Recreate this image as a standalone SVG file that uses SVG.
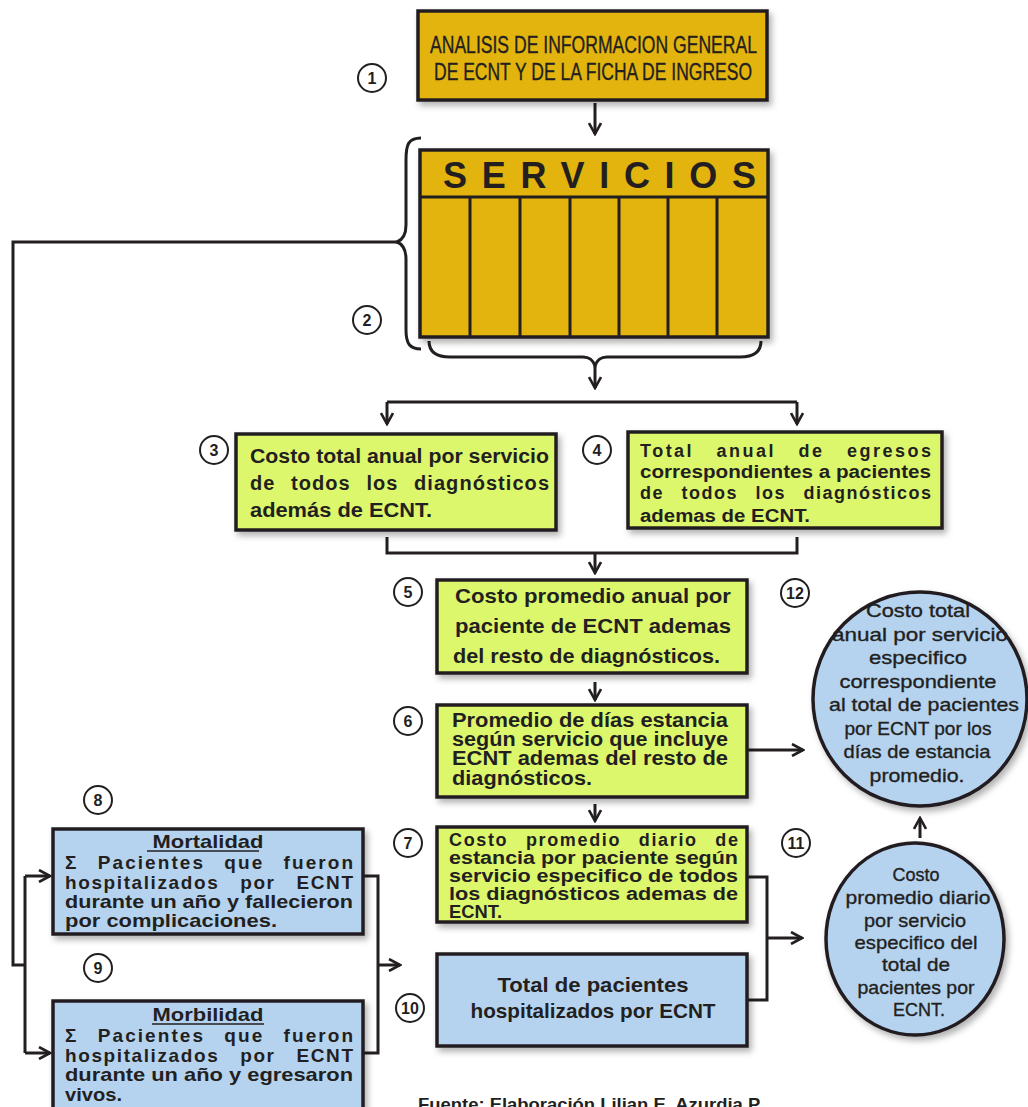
<svg xmlns="http://www.w3.org/2000/svg" width="1028" height="1107" viewBox="0 0 1028 1107">
<defs>
<filter id="sh" x="-10%" y="-10%" width="125%" height="130%">
<feDropShadow dx="3" dy="4" stdDeviation="3" flood-color="#000" flood-opacity="0.3"/>
</filter>
<marker id="arr" viewBox="0 0 14 14" refX="12" refY="7" markerWidth="14" markerHeight="14" markerUnits="userSpaceOnUse" orient="auto">
<path d="M1,1 L12,7 L1,13" fill="none" stroke="#231F20" stroke-width="2.6"/>
</marker>
</defs>
<style>
.gold{fill:#E3B40C;stroke:#231F20;stroke-width:3.5}
.green{fill:#DDF76C;stroke:#231F20;stroke-width:3.5}
.blue{fill:#B5D3EF;stroke:#231F20;stroke-width:3.5}
.t{font-family:"Liberation Sans","DejaVu Sans",sans-serif;fill:#231F20;font-weight:bold}
.r{font-weight:normal;stroke:#231F20;stroke-width:0.35}
.c{text-anchor:middle}
.num circle{fill:#fff;stroke:#231F20;stroke-width:2}
.num text{font-family:"Liberation Sans",sans-serif;font-weight:bold;font-size:16px;fill:#231F20;text-anchor:middle}
.ln{fill:none;stroke:#231F20;stroke-width:3}
.a{fill:none;stroke:#231F20;stroke-width:3;marker-end:url(#arr)}
</style>
<rect width="1028" height="1107" fill="#fff"/>

<g id="connectors">
<path class="a" d="M595,103 V134"/>
<path class="ln" d="M421,138 C408,138 406,145 406,160 L406,225 C406,236 402,240 397,242 C402,244 406,248 406,259 L406,330 C406,344 410,349 421,349"/>
<path class="ln" d="M397,242 H13 V965 H25"/>
<path class="ln" d="M25,876 V1053"/>
<path class="a" d="M25,876 H50"/>
<path class="a" d="M25,1053 H50"/>
<path class="ln" d="M429,341 C429,352 436,357 450,357 L583,357 C590,357 593,360 595,366 C597,360 600,357 607,357 L740,357 C754,357 761,352 761,341"/>
<path class="a" d="M595,366 V388"/>
<path class="ln" d="M387,402 H797"/>
<path class="a" d="M387,402 V424"/>
<path class="a" d="M797,402 V424"/>
<path class="ln" d="M387,537 V553 H797 V537"/>
<path class="a" d="M595,553 V573"/>
<path class="a" d="M595,682 V700"/>
<path class="a" d="M595,804 V821"/>
<path class="a" d="M748,750 H803"/>
<path class="ln" d="M748,877 H767 V1000 H748"/>
<path class="a" d="M767,938 H802"/>
<path class="ln" d="M363,876 H378 V1053 H363"/>
<path class="a" d="M378,965 H400"/>
<path class="a" d="M920,838 V818"/>
</g>

<g id="n1">
<rect class="gold" x="418" y="11" width="349" height="89" filter="url(#sh)"/>
<text class="t r" font-size="23" x="430" y="53" textLength="327" lengthAdjust="spacingAndGlyphs">ANALISIS DE INFORMACION GENERAL</text>
<text class="t r" font-size="23" x="434" y="80" textLength="318" lengthAdjust="spacingAndGlyphs">DE ECNT Y DE LA FICHA DE INGRESO</text>
</g>

<g id="n2">
<rect class="gold" x="420" y="150" width="348" height="187" filter="url(#sh)"/>
<path class="ln" d="M420,197 H768 M470,197 V337 M520,197 V337 M570,197 V337 M619,197 V337 M668,197 V337 M717,197 V337"/>
<text class="t" font-size="36" x="443" y="188" textLength="313" lengthAdjust="spacing">SERVICIOS</text>
</g>

<g id="n3">
<rect class="green" x="236" y="434" width="320" height="96" filter="url(#sh)"/>
<text class="t" font-size="20" x="250" y="463" textLength="299" lengthAdjust="spacingAndGlyphs">Costo total anual por servicio</text>
<text class="t" font-size="20" x="250" y="490" word-spacing="9" textLength="299" lengthAdjust="spacing">de todos los diagnósticos</text>
<text class="t" font-size="20" x="250" y="517" textLength="182" lengthAdjust="spacingAndGlyphs">además de ECNT.</text>
</g>

<g id="n4">
<rect class="green" x="628" y="432" width="314" height="96" filter="url(#sh)"/>
<text class="t" font-size="18" x="640" y="457" word-spacing="15" textLength="291" lengthAdjust="spacing">Total anual de egresos</text>
<text class="t" font-size="18" x="640" y="478" textLength="291" lengthAdjust="spacingAndGlyphs">correspondientes a pacientes</text>
<text class="t" font-size="18" x="640" y="499" word-spacing="11" textLength="291" lengthAdjust="spacing">de todos los diagnósticos</text>
<text class="t" font-size="18" x="640" y="522" textLength="170" lengthAdjust="spacingAndGlyphs">ademas de ECNT.</text>
</g>

<g id="n5">
<rect class="green" x="437" y="580" width="310" height="93" filter="url(#sh)"/>
<text class="t" font-size="21" x="455" y="603" textLength="276" lengthAdjust="spacingAndGlyphs">Costo promedio anual por</text>
<text class="t" font-size="21" x="455" y="633" textLength="276" lengthAdjust="spacingAndGlyphs">paciente de ECNT ademas</text>
<text class="t" font-size="21" x="453" y="663" textLength="267" lengthAdjust="spacingAndGlyphs">del resto de diagnósticos.</text>
</g>

<g id="n6">
<rect class="green" x="437" y="705" width="310" height="92" filter="url(#sh)"/>
<text class="t" font-size="20" x="452" y="727" textLength="276" lengthAdjust="spacingAndGlyphs">Promedio de días estancia</text>
<text class="t" font-size="20" x="452" y="746" textLength="276" lengthAdjust="spacingAndGlyphs">según servicio que incluye</text>
<text class="t" font-size="20" x="452" y="765" textLength="276" lengthAdjust="spacingAndGlyphs">ECNT ademas del resto de</text>
<text class="t" font-size="20" x="452" y="785" textLength="140" lengthAdjust="spacingAndGlyphs">diagnósticos.</text>
</g>

<g id="n7">
<rect class="green" x="437" y="827" width="310" height="95" filter="url(#sh)"/>
<text class="t" font-size="18" x="449" y="846" word-spacing="11" textLength="289" lengthAdjust="spacing">Costo promedio diario de</text>
<text class="t" font-size="18" x="449" y="864" textLength="289" lengthAdjust="spacingAndGlyphs">estancia por paciente según</text>
<text class="t" font-size="18" x="449" y="882" textLength="289" lengthAdjust="spacingAndGlyphs">servicio especifico de todos</text>
<text class="t" font-size="18" x="449" y="900" textLength="289" lengthAdjust="spacingAndGlyphs">los diagnósticos ademas de</text>
<text class="t" font-size="18" x="449" y="918" textLength="53" lengthAdjust="spacingAndGlyphs">ECNT.</text>
</g>

<g id="n10">
<rect class="blue" x="437" y="954" width="310" height="92" filter="url(#sh)"/>
<text class="t c" font-size="21" x="593" y="992" textLength="191" lengthAdjust="spacingAndGlyphs">Total de pacientes</text>
<text class="t c" font-size="21" x="593" y="1018" textLength="245" lengthAdjust="spacingAndGlyphs">hospitalizados por ECNT</text>
</g>

<g id="n8">
<rect class="blue" x="53" y="829" width="310" height="105" filter="url(#sh)"/>
<text class="t c" font-size="19" x="208" y="848" textLength="111" lengthAdjust="spacingAndGlyphs">Mortalidad</text>
<path d="M147,851 H259" stroke="#231F20" stroke-width="1.5"/>
<text class="t" font-size="19" x="65" y="869" word-spacing="12" textLength="288" lengthAdjust="spacing">Σ Pacientes que fueron</text>
<text class="t" font-size="19" x="65" y="889" word-spacing="14" textLength="288" lengthAdjust="spacing">hospitalizados por ECNT</text>
<text class="t" font-size="19" x="65" y="908" textLength="288" lengthAdjust="spacingAndGlyphs">durante un año y fallecieron</text>
<text class="t" font-size="19" x="65" y="927" textLength="212" lengthAdjust="spacingAndGlyphs">por complicaciones.</text>
</g>

<g id="n9">
<rect class="blue" x="53" y="1001" width="310" height="115" filter="url(#sh)"/>
<text class="t c" font-size="19" x="208" y="1021" textLength="111" lengthAdjust="spacingAndGlyphs">Morbilidad</text>
<path d="M152,1024 H264" stroke="#231F20" stroke-width="1.5"/>
<text class="t" font-size="19" x="65" y="1042" word-spacing="12" textLength="288" lengthAdjust="spacing">Σ Pacientes que fueron</text>
<text class="t" font-size="19" x="65" y="1062" word-spacing="14" textLength="288" lengthAdjust="spacing">hospitalizados por ECNT</text>
<text class="t" font-size="19" x="65" y="1081" textLength="288" lengthAdjust="spacingAndGlyphs">durante un año y egresaron</text>
<text class="t" font-size="19" x="65" y="1101" textLength="57" lengthAdjust="spacingAndGlyphs">vivos.</text>
</g>

<g id="n12">
<circle class="blue" cx="920" cy="699" r="107" filter="url(#sh)"/>
<text class="t c r" font-size="19" x="918" y="617" textLength="104" lengthAdjust="spacingAndGlyphs">Costo total</text>
<text class="t c r" font-size="19" x="920" y="641" textLength="176" lengthAdjust="spacingAndGlyphs">anual por servicio</text>
<text class="t c r" font-size="19" x="918" y="664" textLength="98" lengthAdjust="spacingAndGlyphs">especifico</text>
<text class="t c r" font-size="19" x="918" y="688" textLength="157" lengthAdjust="spacingAndGlyphs">correspondiente</text>
<text class="t c r" font-size="19" x="924" y="711" textLength="190" lengthAdjust="spacingAndGlyphs">al total de pacientes</text>
<text class="t c r" font-size="19" x="918" y="735" textLength="147" lengthAdjust="spacingAndGlyphs">por ECNT por los</text>
<text class="t c r" font-size="19" x="917" y="758" textLength="147" lengthAdjust="spacingAndGlyphs">días de estancia</text>
<text class="t c r" font-size="19" x="917" y="782" textLength="95" lengthAdjust="spacingAndGlyphs">promedio.</text>
</g>

<g id="n11">
<ellipse class="blue" cx="915" cy="939" rx="89" ry="96" filter="url(#sh)"/>
<text class="t c r" font-size="19" x="916" y="881" textLength="47" lengthAdjust="spacingAndGlyphs">Costo</text>
<text class="t c r" font-size="19" x="918" y="904" textLength="145" lengthAdjust="spacingAndGlyphs">promedio diario</text>
<text class="t c r" font-size="19" x="915" y="927" textLength="102" lengthAdjust="spacingAndGlyphs">por servicio</text>
<text class="t c r" font-size="19" x="916" y="949" textLength="123" lengthAdjust="spacingAndGlyphs">especifico del</text>
<text class="t c r" font-size="19" x="916" y="971" textLength="68" lengthAdjust="spacingAndGlyphs">total de</text>
<text class="t c r" font-size="19" x="916" y="994" textLength="117" lengthAdjust="spacingAndGlyphs">pacientes por</text>
<text class="t c r" font-size="19" x="919" y="1016" textLength="52" lengthAdjust="spacingAndGlyphs">ECNT.</text>
</g>

<g class="num" id="numbers">
<circle cx="372" cy="78" r="14"/><text x="372" y="84">1</text>
<circle cx="367" cy="320" r="14"/><text x="367" y="326">2</text>
<circle cx="214" cy="450" r="14"/><text x="214" y="456">3</text>
<circle cx="597" cy="450" r="14"/><text x="597" y="456">4</text>
<circle cx="408" cy="592" r="14"/><text x="408" y="598">5</text>
<circle cx="795" cy="593" r="14"/><text x="795" y="599">12</text>
<circle cx="408" cy="721" r="14"/><text x="408" y="727">6</text>
<circle cx="98" cy="800" r="14"/><text x="98" y="806">8</text>
<circle cx="408" cy="843" r="14"/><text x="408" y="849">7</text>
<circle cx="796" cy="843" r="14"/><text x="796" y="849">11</text>
<circle cx="98" cy="968" r="14"/><text x="98" y="974">9</text>
<circle cx="410" cy="1008" r="14"/><text x="410" y="1014">10</text>
</g>

<text class="t" font-size="17" x="418" y="1110" textLength="345" lengthAdjust="spacingAndGlyphs">Fuente: Elaboración Lilian E. Azurdia P.</text>
</svg>
